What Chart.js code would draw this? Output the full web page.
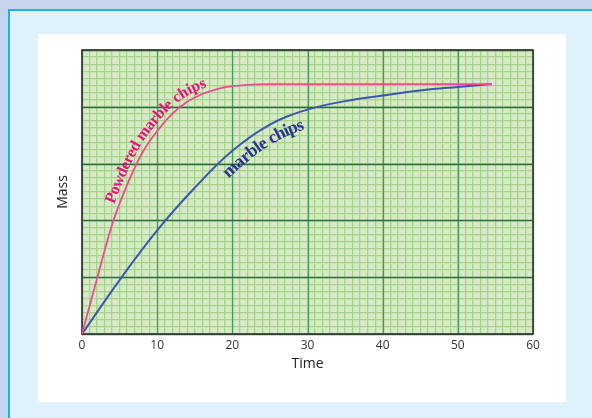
<!DOCTYPE html>
<html>
<head>
<meta charset="utf-8">
<script src="https://cdn.jsdelivr.net/npm/chart.js@4.4.0/dist/chart.umd.min.js"></script>
<style>
  html, body { margin: 0; padding: 0; overflow: hidden; }
  body { width: 592px; height: 418px; background: #c5d4eb; position: relative; }
  #frame { position: absolute; left: 8px; top: 9px; width: 582px; height: 407px;
           background: #dff2fb; border-left: 2px solid #19b3ee; border-top: 2px solid #19b3ee; }
  #panel { position: absolute; left: 38px; top: 34px; width: 528px; height: 368px; background: #fff; }
  #myChart { position: absolute; left: 0; top: 0; }
</style>
</head>
<body>
<div id="frame"></div>
<div id="panel"></div>
<canvas id="myChart" width="592" height="418"></canvas>
<script>
    // values
    var powderTime = [0, 2, 4, 6, 8, 10, 12, 14, 16, 18, 20, 22, 25, 30, 40, 50, 54.5];
    var powderMass = [0, 7.8, 15.4, 21, 25.5, 28.6, 31, 32.7, 33.8, 34.5, 34.9, 35.1, 35.2, 35.2, 35.2, 35.2, 35.2];
    var chipsTime = [0, 5, 10, 15, 20, 25, 30, 35, 40, 45, 50, 54.5];
    var chipsMass = [0, 7.6, 14.6, 20.6, 25.8, 29.5, 31.6, 32.8, 33.6, 34.3, 34.8, 35.2];
    var seriesNames = ['Powdered marble chips', 'marble chips'];

    function toPoints(xs, ys) {
        return xs.map(function (x, i) { return {x: x, y: ys[i]}; });
    }

    // green graph paper, major lines and frame
    var paper = {
        id: 'paper',
        beforeDraw: function (chart) {
            var a = chart.chartArea, c = chart.ctx;
            c.save();
            c.fillStyle = '#d7eac6';
            c.fillRect(a.left, a.top, a.right - a.left, a.bottom - a.top);
            c.restore();
        },
        beforeDatasetsDraw: function (chart) {
            var a = chart.chartArea, c = chart.ctx;
            var sx = chart.scales.x, sy = chart.scales.y;
            c.save();
            c.lineWidth = 1.3;
            c.strokeStyle = '#479a5c';
            sx.ticks.forEach(function (t) {
                if (t.value % 10 !== 0) return;
                var px = Math.round(sx.getPixelForValue(t.value)) + 0.5;
                c.beginPath(); c.moveTo(px, a.top); c.lineTo(px, a.bottom); c.stroke();
            });
            c.strokeStyle = '#2a6c3d';
            sy.ticks.forEach(function (t) {
                if (t.value % 8 !== 0) return;
                var py = Math.round(sy.getPixelForValue(t.value)) + 0.5;
                c.beginPath(); c.moveTo(a.left, py); c.lineTo(a.right, py); c.stroke();
            });
            c.strokeStyle = '#383838';
            c.lineWidth = 1.6;
            c.strokeRect(a.left, a.top, a.right - a.left, a.bottom - a.top);
            c.restore();
        }
    };

    // text written along a curve
    var curveLabels = {
        id: 'curveLabels',
        afterDatasetsDraw: function (chart, args, opts) {
            var c = chart.ctx;
            opts.items.forEach(function (it) {
                var pts = chart.getDatasetMeta(it.dataset).data;
                var path = [];
                for (var i = 0; i < pts.length - 1; i++) {
                    var p0 = pts[i], p1 = pts[i + 1];
                    var c1x = p0.cp2x, c1y = p0.cp2y, c2x = p1.cp1x, c2y = p1.cp1y;
                    for (var k = 0; k < 30; k++) {
                        var t = k / 30, u = 1 - t;
                        path.push({
                            x: u*u*u*p0.x + 3*u*u*t*c1x + 3*u*t*t*c2x + t*t*t*p1.x,
                            y: u*u*u*p0.y + 3*u*u*t*c1y + 3*u*t*t*c2y + t*t*t*p1.y
                        });
                    }
                }
                path.push({x: pts[pts.length - 1].x, y: pts[pts.length - 1].y});
                var len = [0];
                for (var j = 1; j < path.length; j++) {
                    len.push(len[j - 1] + Math.hypot(path[j].x - path[j - 1].x, path[j].y - path[j - 1].y));
                }
                function at(s) {
                    for (var j = 1; j < path.length; j++) {
                        if (len[j] >= s) {
                            var f = (s - len[j - 1]) / (len[j] - len[j - 1] || 1);
                            var dx = path[j].x - path[j - 1].x, dy = path[j].y - path[j - 1].y;
                            return {x: path[j - 1].x + f * dx, y: path[j - 1].y + f * dy, a: Math.atan2(dy, dx)};
                        }
                    }
                    return null;
                }
                var startPx = chart.scales.x.getPixelForValue(it.start);
                var s = 0;
                for (var j = 0; j < path.length; j++) {
                    if (path[j].x >= startPx) { s = len[j]; break; }
                }
                c.save();
                c.font = it.font;
                c.fillStyle = it.color;
                c.textAlign = 'center';
                c.textBaseline = 'alphabetic';
                var text = seriesNames[it.dataset];
                for (var n = 0; n < text.length; n++) {
                    var w = c.measureText(text[n]).width;
                    var p = at(s + w / 2);
                    if (!p) break;
                    var ux = Math.sin(p.a), uy = -Math.cos(p.a);
                    c.save();
                    c.translate(p.x + ux * it.offset, p.y + uy * it.offset);
                    c.rotate(p.a);
                    c.fillText(text[n], 0, 0);
                    c.restore();
                    s += w + it.spacing;
                }
                c.restore();
            });
        }
    };

    var ctx = document.getElementById('myChart').getContext('2d');
    var chart = new Chart(ctx, {
        type: 'line',
        data: {
            datasets: [{
                    label: seriesNames[0],
                    data: toPoints(powderTime, powderMass),
                    borderColor: '#ec4b91',
                    borderWidth: 1.8,
                    pointRadius: 0,
                    fill: false,
                    cubicInterpolationMode: 'monotone'
                },
                {
                    label: seriesNames[1],
                    data: toPoints(chipsTime, chipsMass),
                    borderColor: '#3a56ad',
                    borderWidth: 2,
                    pointRadius: 0,
                    fill: false,
                    tension: 0.4
                }
            ]
        },
        options: {
            responsive: false,
            animation: false,
            layout: {
                padding: {left: 38, top: 50, right: 59, bottom: 16}
            },
            plugins: {
                legend: {display: false},
                tooltip: {enabled: false},
                curveLabels: {
                    items: [
                        {dataset: 0, start: 4.8, offset: 5, font: 'bold 16px "Liberation Serif"', color: '#e6137d', spacing: -0.5},
                        {dataset: 1, start: 17.8, offset: -18, font: 'bold 18px "Liberation Serif"', color: '#2b3590', spacing: 0}
                    ]
                }
            },
            scales: {
                x: {
                    type: 'linear',
                    min: 0,
                    max: 60,
                    afterFit: function (scale) { scale.height = 68; },
                    border: {display: false},
                    grid: {
                        drawTicks: false,
                        lineWidth: 1.3,
                        color: '#a6d48a'
                    },
                    ticks: {
                        stepSize: 1,
                        autoSkip: false,
                        maxRotation: 0,
                        padding: 4,
                        color: '#333',
                        font: {family: '"Open Sans", "Liberation Sans", sans-serif', size: 12},
                        callback: function (v) { return v % 10 === 0 ? v : ''; }
                    },
                    title: {
                        display: true,
                        text: 'Time',
                        color: '#222',
                        padding: {top: 0, bottom: 30},
                        font: {family: '"Open Sans", "Liberation Sans", sans-serif', size: 14}
                    }
                },
                y: {
                    min: 0,
                    max: 40,
                    afterFit: function (scale) { scale.width = 44; },
                    border: {display: false},
                    grid: {
                        drawTicks: false,
                        lineWidth: 1.3,
                        color: '#a6d48a'
                    },
                    ticks: {
                        stepSize: 1,
                        autoSkip: false,
                        display: false
                    },
                    title: {
                        display: true,
                        text: 'Mass',
                        color: '#222',
                        padding: {top: 17, bottom: 0},
                        font: {family: '"Open Sans", "Liberation Sans", sans-serif', size: 14}
                    }
                }
            }
        },
        plugins: [paper, curveLabels]
    });
</script>
</body>
</html>
